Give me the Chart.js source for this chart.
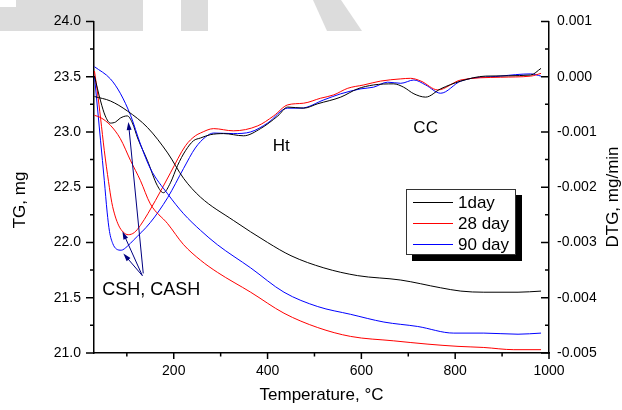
<!DOCTYPE html>
<html>
<head>
<meta charset="utf-8">
<script src="https://cdn.jsdelivr.net/npm/chart.js@4.4.0/dist/chart.umd.min.js"></script>
<style>
  html, body { margin: 0; padding: 0; background: #fff; }
  #tga { display: block; }
</style>
</head>
<body>
<canvas id="tga" width="622" height="410"></canvas>
<script>
const seriesNames = ['1day', '28 day', '90 day'];
const seriesColors = ['#000000', '#ff0000', '#0000ff'];

// TG curves: [temperature (°C), mass (mg)]
const tg1day = [[31, 23.32], [65, 23.28], [101, 23.19], [144, 23.04], [187, 22.81], [221, 22.58], [257, 22.41],
  [327, 22.20], [400, 22.00], [450, 21.88], [520, 21.77], [592, 21.70], [684, 21.66], [769, 21.59],
  [812, 21.56], [861, 21.55], [934, 21.55], [983, 21.56]];
const tg28day = [[31, 23.15], [44, 23.13], [65, 23.06], [86, 22.94], [108, 22.74], [129, 22.56], [150, 22.35],
  [187, 22.17], [221, 21.98], [257, 21.84], [293, 21.73], [364, 21.55], [435, 21.36], [507, 21.23],
  [577, 21.15], [669, 21.11], [742, 21.08], [806, 21.06], [861, 21.05], [925, 21.03], [983, 21.03]];
const tg90day = [[31, 23.59], [65, 23.48], [86, 23.35], [108, 23.15], [129, 22.89], [150, 22.67], [187, 22.44],
  [221, 22.26], [257, 22.11], [293, 21.98], [364, 21.77], [435, 21.55], [507, 21.42], [577, 21.35],
  [648, 21.28], [720, 21.24], [797, 21.18], [861, 21.18], [934, 21.17], [983, 21.18]];

// DTG curves: [temperature (°C), mg/min]
const dtg1day = [[31, 0.00001], [44, -0.00044], [54, -0.00071], [65, -0.00084], [76, -0.00082], [86, -0.00075],
  [101, -0.00071], [112, -0.00084], [123, -0.00111], [144, -0.00152], [165, -0.00197], [178, -0.00210],
  [193, -0.00192], [208, -0.00161], [225, -0.00134], [242, -0.00116], [257, -0.00111], [278, -0.00105],
  [306, -0.00103], [349, -0.00107], [385, -0.00094], [422, -0.00071], [443, -0.00055], [477, -0.00057],
  [507, -0.00049], [556, -0.00037], [592, -0.00022], [626, -0.00015], [669, -0.00013], [690, -0.00019],
  [712, -0.00031], [737, -0.00037], [769, -0.00022], [812, -0.00008], [865, 0.00001], [961, 0.00003],
  [983, 0.00015]];
const dtg28day = [[31, 0.0001], [37, -0.00026], [44, -0.00075], [52, -0.00134], [61, -0.00190], [68, -0.00228],
  [75, -0.00252], [83, -0.00270], [92, -0.00281], [103, -0.00286], [116, -0.00282], [129, -0.00269],
  [161, -0.00224], [193, -0.00174], [225, -0.00125], [246, -0.00107], [257, -0.00102], [285, -0.00094],
  [327, -0.00098], [379, -0.00089], [413, -0.00071], [443, -0.00051], [477, -0.00048], [513, -0.00039],
  [541, -0.00033], [571, -0.00021], [605, -0.00015], [641, -0.00008], [684, -0.00004], [705, -0.00003],
  [727, -0.00008], [763, -0.00024], [812, -0.00006], [897, -0.00001], [961, 0.00001], [983, 0.00006]];
const dtg90day = [[31, 0.00001], [37, -0.00053], [44, -0.00116], [52, -0.00188], [58, -0.00245], [63, -0.00280],
  [70, -0.00302], [78, -0.00312], [88, -0.00314], [101, -0.00307], [114, -0.00296], [150, -0.00264],
  [187, -0.00219], [221, -0.00166], [246, -0.00129], [268, -0.00109], [285, -0.00102], [327, -0.00103],
  [364, -0.00100], [400, -0.00084], [443, -0.00057], [471, -0.00057], [520, -0.00042], [556, -0.00031],
  [599, -0.00022], [626, -0.00019], [656, -0.00010], [684, -0.00012], [712, -0.00006], [737, -0.00015],
  [769, -0.00030], [812, -0.00008], [897, 0.00001], [961, 0.00005], [983, 0.00001]];

const xTicks = [200, 400, 600, 800, 1000];
const xMinorTicks = [100, 300, 500, 700, 900];
const tgTicks = [21.0, 21.5, 22.0, 22.5, 23.0, 23.5, 24.0];
const tgMinorTicks = [21.25, 21.75, 22.25, 22.75, 23.25, 23.75];
const dtgTicks = [-0.005, -0.004, -0.003, -0.002, -0.001, 0, 0.001];
const dtgMinorTicks = [-0.0045, -0.0035, -0.0025, -0.0015, -0.0005, 0.0005];

// peak labels, placed in data units of the TG axis
const peakLabels = [
  { text: 'Ht', x: 429, y: 22.87, size: 17 },
  { text: 'CC', x: 737, y: 23.03, size: 17 },
  { text: 'CSH, CASH', x: 152, y: 21.57, size: 18 }
];
// arrows from the CSH label to the peaks: [x, TG] -> [x, TG]
const peakArrows = [
  { from: [133, 21.70], to: [90.7, 22.10] },
  { from: [133, 21.70], to: [92.6, 21.90] },
  { from: [135, 21.72], to: [103.3, 23.09] }
];

const FONT = "'Liberation Sans', Arial, sans-serif";

function toPoints(arr) {
  return arr.map(p => ({ x: p[0], y: p[1] }));
}

function makeSet(label, arr, color, axis) {
  return {
    label: label,
    data: toPoints(arr),
    borderColor: color,
    borderWidth: 1,
    pointRadius: 0,
    fill: false,
    cubicInterpolationMode: 'monotone',
    yAxisID: axis
  };
}

const datasets = [
  makeSet('TG ' + seriesNames[0], tg1day, seriesColors[0], 'y'),
  makeSet('TG ' + seriesNames[1], tg28day, seriesColors[1], 'y'),
  makeSet('TG ' + seriesNames[2], tg90day, seriesColors[2], 'y'),
  makeSet('DTG ' + seriesNames[0], dtg1day, seriesColors[0], 'y2'),
  makeSet('DTG ' + seriesNames[1], dtg28day, seriesColors[1], 'y2'),
  makeSet('DTG ' + seriesNames[2], dtg90day, seriesColors[2], 'y2')
];

function drawTickMarks(ctx, scale, values, len, side) {
  ctx.beginPath();
  values.forEach(v => {
    const p = scale.getPixelForValue(v);
    if (side === 'left') {
      ctx.moveTo(scale.right, p);
      ctx.lineTo(scale.right - len, p);
    } else if (side === 'right') {
      // ticks of the DTG axis point into the plot
      ctx.moveTo(scale.left, p);
      ctx.lineTo(scale.left - len, p);
    } else {
      ctx.moveTo(p, scale.top);
      ctx.lineTo(p, scale.top + len);
    }
  });
  ctx.stroke();
}

function drawArrow(ctx, x1, y1, x2, y2) {
  const ang = Math.atan2(y2 - y1, x2 - x1);
  const hl = 8, hw = 2.5;
  ctx.beginPath();
  ctx.moveTo(x1, y1);
  ctx.lineTo(x2 - Math.cos(ang) * hl * 0.6, y2 - Math.sin(ang) * hl * 0.6);
  ctx.stroke();
  ctx.beginPath();
  ctx.moveTo(x2, y2);
  ctx.lineTo(x2 - Math.cos(ang) * hl - Math.sin(ang) * hw, y2 - Math.sin(ang) * hl + Math.cos(ang) * hw);
  ctx.lineTo(x2 - Math.cos(ang) * hl + Math.sin(ang) * hw, y2 - Math.sin(ang) * hl - Math.cos(ang) * hw);
  ctx.closePath();
  ctx.fill();
}

const decor = {
  id: 'decor',
  beforeDraw(chart) {
    const ctx = chart.ctx;
    ctx.save();
    ctx.fillStyle = '#fff';
    ctx.fillRect(0, 0, chart.width, chart.height);
    // faint watermark at the top of the page
    ctx.fillStyle = '#dcdcdc';
    ctx.fillRect(16, 0, 127, 8);
    ctx.fillRect(0, 7, 143, 24);
    ctx.fillRect(181, 0, 27, 31);
    ctx.beginPath();
    ctx.moveTo(313, 0);
    ctx.lineTo(341, 0);
    ctx.lineTo(362, 31);
    ctx.lineTo(327, 31);
    ctx.closePath();
    ctx.fill();
    ctx.restore();
  },
  afterDraw(chart) {
    const ctx = chart.ctx;
    const sx = chart.scales.x, sy = chart.scales.y, sy2 = chart.scales.y2;
    ctx.save();

    ctx.strokeStyle = '#000';
    ctx.lineWidth = 1.5;
    drawTickMarks(ctx, sy, tgTicks, 8, 'left');
    drawTickMarks(ctx, sy, tgMinorTicks, 4, 'left');
    drawTickMarks(ctx, sy2, dtgTicks, 8, 'right');
    drawTickMarks(ctx, sy2, dtgMinorTicks, 4, 'right');
    drawTickMarks(ctx, sx, xTicks, 6, 'bottom');
    drawTickMarks(ctx, sx, xMinorTicks, 3.5, 'bottom');

    // arrows
    ctx.strokeStyle = '#000080';
    ctx.fillStyle = '#000080';
    ctx.lineWidth = 1;
    peakArrows.forEach(a => {
      drawArrow(ctx,
        sx.getPixelForValue(a.from[0]), sy.getPixelForValue(a.from[1]),
        sx.getPixelForValue(a.to[0]), sy.getPixelForValue(a.to[1]));
    });

    // peak labels
    ctx.fillStyle = '#000';
    ctx.textAlign = 'center';
    ctx.textBaseline = 'middle';
    peakLabels.forEach(l => {
      ctx.font = l.size + 'px ' + FONT;
      ctx.fillText(l.text, sx.getPixelForValue(l.x), sy.getPixelForValue(l.y));
    });

    // axis titles on the two y axes, both read upwards
    ctx.font = '17px ' + FONT;
    ctx.save();
    ctx.translate(20, 200);
    ctx.rotate(-Math.PI / 2);
    ctx.fillText('TG, mg', 0, 0);
    ctx.restore();
    ctx.save();
    ctx.translate(613, 197);
    ctx.rotate(-Math.PI / 2);
    ctx.fillText('DTG, mg/min', 0, 0);
    ctx.restore();

    // legend box with drop shadow
    const lx = 406, ly = 189, lw = 110, lh = 66;
    ctx.fillStyle = '#000';
    ctx.fillRect(lx + 6, ly + 6, lw, lh);
    ctx.fillStyle = '#fff';
    ctx.fillRect(lx, ly, lw, lh);
    ctx.strokeStyle = '#333';
    ctx.lineWidth = 1;
    ctx.strokeRect(lx + 0.5, ly + 0.5, lw - 1, lh - 1);
    ctx.font = '17px ' + FONT;
    ctx.textAlign = 'left';
    seriesNames.forEach((name, i) => {
      const yy = ly + 13.5 + i * 21;
      ctx.strokeStyle = seriesColors[i];
      ctx.beginPath();
      ctx.moveTo(lx + 7, yy);
      ctx.lineTo(lx + 47, yy);
      ctx.stroke();
      ctx.fillStyle = '#000';
      ctx.fillText(name, lx + 52, yy + 1);
    });

    ctx.restore();
  }
};

new Chart(document.getElementById('tga'), {
  type: 'line',
  data: { datasets: datasets },
  plugins: [decor],
  options: {
    responsive: false,
    animation: false,
    devicePixelRatio: 1,
    layout: { padding: { top: 20, left: 0, right: 0, bottom: 0 } },
    plugins: {
      legend: { display: false },
      tooltip: { enabled: false }
    },
    scales: {
      x: {
        type: 'linear',
        min: 30,
        max: 1000,
        afterBuildTicks: s => { s.ticks = xTicks.map(v => ({ value: v })); },
        afterFit: s => { s.height = 57; },
        grid: { display: false, drawTicks: false },
        border: { display: true, color: '#000', width: 1.5 },
        ticks: {
          color: '#000',
          font: { family: FONT, size: 14 },
          padding: 10,
          maxRotation: 0,
          autoSkip: false,
          callback: v => String(v)
        },
        title: {
          display: true,
          text: 'Temperature, °C',
          color: '#000',
          font: { family: FONT, size: 17 },
          padding: { top: 0, bottom: 4 }
        }
      },
      y: {
        position: 'left',
        min: 21,
        max: 24,
        afterBuildTicks: s => { s.ticks = tgTicks.map(v => ({ value: v })); },
        afterFit: s => { s.width = 94; },
        grid: { display: false, drawTicks: false },
        border: { display: true, color: '#000', width: 1.5 },
        ticks: {
          color: '#000',
          font: { family: FONT, size: 14 },
          padding: 13,
          callback: v => v.toFixed(1)
        }
      },
      y2: {
        position: 'right',
        min: -0.005,
        max: 0.001,
        afterBuildTicks: s => { s.ticks = dtgTicks.map(v => ({ value: v })); },
        afterFit: s => { s.width = 73; },
        grid: { display: false, drawTicks: false },
        border: { display: true, color: '#000', width: 1.5 },
        ticks: {
          color: '#000',
          font: { family: FONT, size: 14 },
          padding: 8,
          callback: v => v.toFixed(3)
        }
      }
    }
  }
});
</script>
</body>
</html>
